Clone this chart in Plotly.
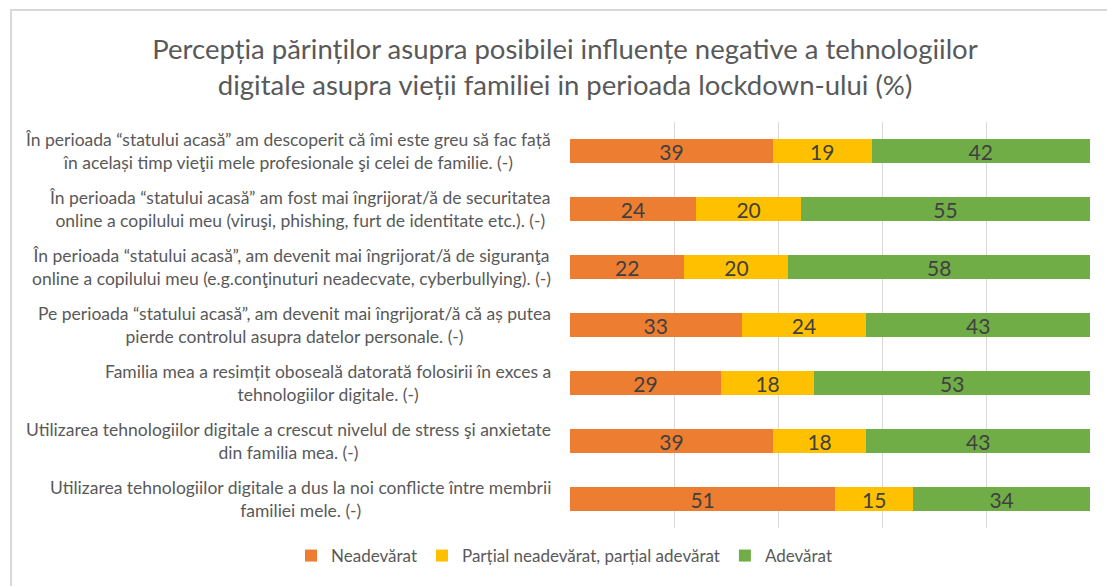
import plotly.graph_objects as go

categories = [
    "În perioada “statului acasă” am descoperit că îmi este greu să fac față<br>în același timp vieţii mele profesionale şi celei de familie. (-)",
    "În perioada “statului acasă” am fost mai îngrijorat/ă de securitatea<br>online a copilului meu (viruşi, phishing, furt de identitate etc.). (-)",
    "În perioada “statului acasă”, am devenit mai îngrijorat/ă de siguranţa<br>online a copilului meu (e.g.conţinuturi neadecvate, cyberbullying). (-)",
    "Pe perioada “statului acasă”, am devenit mai îngrijorat/ă că aș putea<br>pierde controlul asupra datelor personale. (-)",
    "Familia mea a resimțit oboseală datorată folosirii în exces a<br>tehnologiilor digitale. (-)",
    "Utilizarea tehnologiilor digitale a crescut nivelul de stress şi anxietate<br>din familia mea. (-)",
    "Utilizarea tehnologiilor digitale a dus la noi conflicte între membrii<br>familiei mele. (-)",
]
neadevarat = [39, 24, 22, 33, 29, 39, 51]
partial = [19, 20, 20, 24, 18, 18, 15]
adevarat = [42, 55, 58, 43, 53, 43, 34]
series_names = ["Neadevărat", "Parțial neadevărat, parțial adevărat", "Adevărat"]
colors = ["#ED7D31", "#FFC000", "#70AD47"]
title_text = ("Percepția părinților asupra posibilei influențe negative a tehnologiilor<br>"
              "digitale asupra vieții familiei in perioada lockdown-ului (%)")

FONT = "Lato"
W, H = 1107, 586
ML, MR, MT, MB = 570, 17, 122, 58

fig = go.Figure()
for name, vals, col in zip(series_names, [neadevarat, partial, adevarat], colors):
    fig.add_trace(go.Bar(
        y=categories, x=vals, name=name, orientation="h",
        marker=dict(color=col, line=dict(width=0)),
        text=vals, texttemplate="%{text}", textposition="inside",
        insidetextanchor="middle", textangle=0, constraintext="none",
        textfont=dict(family=FONT, size=21, color="#404040"),
        hoverinfo="skip",
    ))

for cat in categories:
    fig.add_annotation(
        x=0, xref="paper", y=cat, yref="y", text=cat, showarrow=False,
        xanchor="right", yanchor="middle", align="center", xshift=-17,
        font=dict(family=FONT, size=17.5, color="#595959"),
    )

pw = W - ML - MR
ph = H - MT - MB
# chart border (top and left edges)
fig.add_shape(type="line", xref="paper", yref="paper",
              x0=(10 - ML) / pw, x1=(W - ML) / pw,
              y0=1 + (MT - 10) / ph, y1=1 + (MT - 10) / ph,
              line=dict(color="#D9D9D9", width=2))
fig.add_shape(type="line", xref="paper", yref="paper",
              x0=(11 - ML) / pw, x1=(11 - ML) / pw,
              y0=1 + (MT - 10) / ph, y1=-MB / ph,
              line=dict(color="#D9D9D9", width=2))

fig.update_layout(
    width=W, height=H,
    margin=dict(l=ML, r=MR, t=MT, b=MB),
    barmode="stack", barnorm="percent", bargap=0.6,
    paper_bgcolor="white", plot_bgcolor="white",
    font=dict(family=FONT, color="#595959"),
    title=dict(text=title_text, x=565 / W, xanchor="center",
               y=1 - 59 / H, yanchor="middle",
               font=dict(family=FONT, size=27.5, color="#595959")),
    xaxis=dict(range=[0, 100], dtick=20, showgrid=True, gridcolor="#D9D9D9",
               gridwidth=1, showticklabels=False, zeroline=False,
               showline=False, fixedrange=True),
    yaxis=dict(autorange="reversed", showticklabels=False, showgrid=False,
               zeroline=False, showline=False, ticks=""),
    legend=dict(orientation="h", x=(291 - ML) / pw, xanchor="left", y=-28 / ph,
                yanchor="middle", traceorder="normal",
                font=dict(family=FONT, size=17, color="#595959")),
    uniformtext=dict(mode=False),
)

fig.write_html("out.html", config={"displayModeBar": False},
               post_script="document.body.style.margin='0';document.body.style.padding='0';")
